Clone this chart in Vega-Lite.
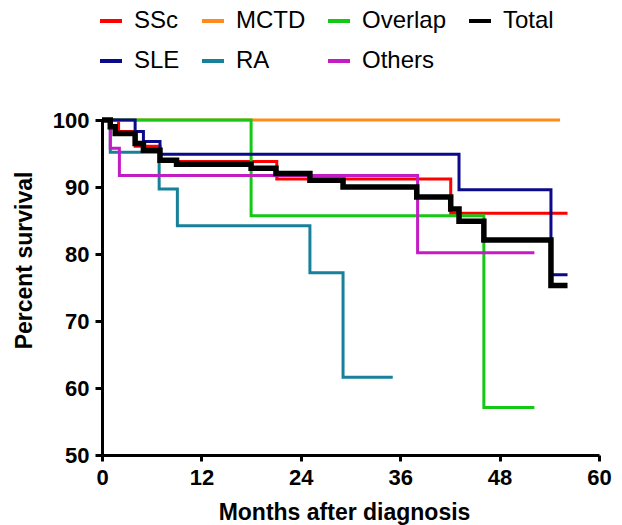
{
  "$schema": "https://vega.github.io/schema/vega-lite/v6.json",
  "autosize": {"type": "none"},
  "padding": {"left": 102, "top": 120, "right": 23, "bottom": 70},
  "width": 497,
  "height": 335,
  "background": "white",
  "config": {
    "view": {"stroke": null},
    "font": "Liberation Sans"
  },
  "data": {
    "values": [
      {"group": "SSc", "month": 0, "surv": 100},
      {"group": "SSc", "month": 2, "surv": 98.3},
      {"group": "SSc", "month": 4, "surv": 96.1},
      {"group": "SSc", "month": 7, "surv": 93.8},
      {"group": "SSc", "month": 21.1, "surv": 91.2},
      {"group": "SSc", "month": 42.1, "surv": 86.1},
      {"group": "SSc", "month": 56.2, "surv": 86.1},
      {"group": "MCTD", "month": 0, "surv": 100},
      {"group": "MCTD", "month": 55.3, "surv": 100},
      {"group": "Overlap", "month": 0, "surv": 100},
      {"group": "Overlap", "month": 18, "surv": 85.7},
      {"group": "Overlap", "month": 46.1, "surv": 57.1},
      {"group": "Overlap", "month": 52.2, "surv": 57.1},
      {"group": "SLE", "month": 0, "surv": 100},
      {"group": "SLE", "month": 4, "surv": 98.3},
      {"group": "SLE", "month": 5, "surv": 96.8},
      {"group": "SLE", "month": 7, "surv": 94.9},
      {"group": "SLE", "month": 43.1, "surv": 89.6},
      {"group": "SLE", "month": 54.2, "surv": 76.9},
      {"group": "SLE", "month": 56.2, "surv": 76.9},
      {"group": "RA", "month": 0, "surv": 100},
      {"group": "RA", "month": 1, "surv": 95.2},
      {"group": "RA", "month": 6.9, "surv": 89.7},
      {"group": "RA", "month": 9.1, "surv": 84.2},
      {"group": "RA", "month": 25.1, "surv": 77.2},
      {"group": "RA", "month": 29.1, "surv": 61.6},
      {"group": "RA", "month": 35.1, "surv": 61.6},
      {"group": "Others", "month": 0, "surv": 100},
      {"group": "Others", "month": 1, "surv": 95.8},
      {"group": "Others", "month": 2.1, "surv": 91.7},
      {"group": "Others", "month": 38.1, "surv": 80.2},
      {"group": "Others", "month": 52.2, "surv": 80.2},
      {"group": "Total", "month": 0, "surv": 100},
      {"group": "Total", "month": 1, "surv": 99},
      {"group": "Total", "month": 1.6, "surv": 98},
      {"group": "Total", "month": 4, "surv": 96.5},
      {"group": "Total", "month": 5, "surv": 95.5},
      {"group": "Total", "month": 7, "surv": 94},
      {"group": "Total", "month": 9, "surv": 93.4},
      {"group": "Total", "month": 18, "surv": 92.8},
      {"group": "Total", "month": 21, "surv": 92.0},
      {"group": "Total", "month": 25.1, "surv": 91.0},
      {"group": "Total", "month": 29.1, "surv": 90.0},
      {"group": "Total", "month": 38, "surv": 88.5},
      {"group": "Total", "month": 42.1, "surv": 86.7},
      {"group": "Total", "month": 43.1, "surv": 84.9},
      {"group": "Total", "month": 46.1, "surv": 82.1},
      {"group": "Total", "month": 54.2, "surv": 75.3},
      {"group": "Total", "month": 56.2, "surv": 75.3}
    ]
  },
  "encoding": {
    "x": {
      "field": "month", "type": "quantitative",
      "scale": {"domain": [0, 60], "nice": false, "zero": false},
      "axis": {
        "values": [0, 12, 24, 36, 48, 60],
        "title": "Months after diagnosis",
        "grid": false,
        "domainColor": "black", "domainWidth": 3,
        "tickColor": "black", "tickWidth": 3, "tickSize": 6,
        "labelFont": "Liberation Sans", "labelFontWeight": "bold", "labelFontSize": 22, "labelColor": "black",
        "labelPadding": 6, "labelFlush": false,
        "titleFont": "Liberation Sans", "titleFontWeight": "bold", "titleFontSize": 23, "titleColor": "black",
        "titleX": 242, "titleY": 64, "titleBaseline": "alphabetic", "titleAlign": "center"
      }
    },
    "y": {
      "field": "surv", "type": "quantitative",
      "scale": {"domain": [50, 100], "nice": false, "zero": false},
      "axis": {
        "values": [50, 60, 70, 80, 90, 100],
        "title": "Percent survival",
        "grid": false,
        "domainColor": "black", "domainWidth": 3,
        "tickColor": "black", "tickWidth": 3, "tickSize": 7,
        "labelFont": "Liberation Sans", "labelFontWeight": "bold", "labelFontSize": 22, "labelColor": "black",
        "labelPadding": 6, "labelFlush": false,
        "titleFont": "Liberation Sans", "titleFontWeight": "bold", "titleFontSize": 23, "titleColor": "black",
        "titleAngle": -90, "titleX": -78, "titleY": 140, "titleBaseline": "middle", "titleAlign": "center"
      }
    },
    "color": {
      "field": "group", "type": "nominal",
      "scale": {
        "domain": ["SSc", "MCTD", "Overlap", "Total", "SLE", "RA", "Others"],
        "range": ["#ff0000", "#ff8c1a", "#14c814", "#000000", "#0a0a8a", "#17809a", "#c41cc4"]
      },
      "legend": {
        "title": null,
        "orient": "none",
        "legendX": -4,
        "legendY": -112,
        "direction": "horizontal",
        "columns": 4,
        "columnPadding": 14,
        "rowPadding": 15,
        "symbolType": "stroke",
        "symbolSize": 484,
        "symbolStrokeWidth": 4,
        "labelFont": "Liberation Sans",
        "labelFontSize": 24,
        "labelColor": "black",
        "labelOffset": 10,
        "padding": 0
      }
    }
  },
  "layer": [
    {
      "transform": [{"filter": "datum.group !== 'Total'"}],
      "mark": {"type": "line", "interpolate": "step-after", "strokeWidth": 3, "clip": false}
    },
    {
      "transform": [{"filter": "datum.group === 'Total'"}],
      "mark": {"type": "line", "interpolate": "step-after", "strokeWidth": 5.5, "clip": false}
    }
  ]
}
